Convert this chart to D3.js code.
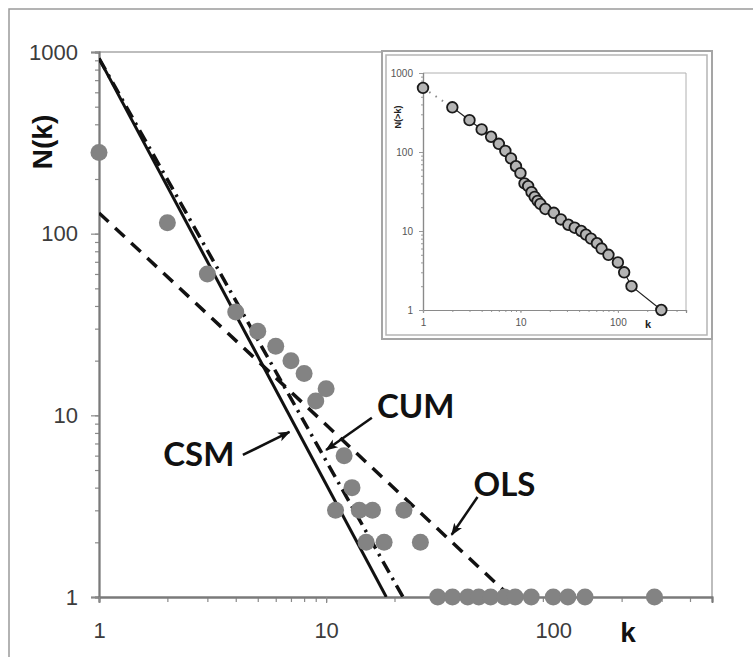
<!DOCTYPE html>
<html>
<head>
<meta charset="utf-8">
<script src="https://cdn.jsdelivr.net/npm/d3@7"></script>
<style>
  body { margin: 0; background: #fff; }
  text { font-family: "Liberation Sans", Arial, sans-serif; }
</style>
</head>
<body>
<svg width="753" height="657"></svg>
<script>
// main panel: degree k and number of nodes N(k)
const degrees = [1, 2, 3, 4, 5, 6, 7, 8, 9, 10, 11, 12, 13, 14, 15, 16, 18, 22, 26,
                 31, 36, 42, 47, 53, 61, 68, 80, 100, 116, 138, 279];
const counts  = [280, 115, 60, 37, 29, 24, 20, 17, 12, 14, 3, 6, 4, 3, 2, 3, 2, 3, 2,
                 1, 1, 1, 1, 1, 1, 1, 1, 1, 1, 1, 1];

// inset: cumulative N(>k)
const cumDegrees = [1, 2, 3, 4, 5, 6, 7, 8, 9, 10, 11, 12, 13, 14, 15, 16, 18, 22, 26,
                    31, 36, 42, 47, 53, 61, 68, 80, 100, 116, 138, 279];
const cumCounts  = [648, 368, 253, 193, 156, 127, 103, 83, 66, 54, 40, 37, 31, 27, 24, 22, 19, 17, 14,
                    12, 11, 10, 9, 8, 7, 6, 5, 4, 3, 2, 1];

// fitted lines, end points [k, N]
const csmFit = [[1, 922], [18.4, 1]];
const cumFit = [[1, 922], [21.8, 1]];
const olsFit = [[1, 130], [65, 1]];

const majorTicks = [1, 10, 100, 1000];
const xMajorTicks = [1, 10, 100];

// annotation labels: text, label position, arrow from -> to (data coords)
const labels = [
  { name: 'CSM', at: [2.75, 6.2],  from: [4.3, 6.05],  to: [6.9, 8.1] },
  { name: 'CUM', at: [24.8, 11.4], from: [15.9, 9.7],  to: [10.0, 6.45] },
  { name: 'OLS', at: [61, 4.25],   from: [46.4, 3.55], to: [35.7, 2.2] }
];

const svg = d3.select('svg');

const minorTicks = (lo, hi) => {
  const out = [];
  for (let p = lo; p < hi; p *= 10)
    for (let m = 1; m < 10; m++) if (p * m <= hi) out.push(p * m);
  out.push(hi);
  return out.filter((v, i, a) => a.indexOf(v) === i);
};

// outer frame
svg.append('rect')
   .attr('x', 9).attr('y', 9)
   .attr('width', 800).attr('height', 700)
   .attr('fill', 'none').attr('stroke', '#9a9a9a').attr('stroke-width', 1.5);

// ---------- main panel ----------
const x = d3.scaleLog().domain([1, 500]).range([99, 712]);
const y = d3.scaleLog().domain([1, 1000]).range([597, 52]);

svg.append('defs').append('clipPath').attr('id', 'plotclip')
   .append('rect').attr('x', 99).attr('y', 52).attr('width', 613).attr('height', 545);

// frame top / right
svg.append('path')
   .attr('d', `M99,52H712V597`)
   .attr('fill', 'none').attr('stroke', '#a8a8a8').attr('stroke-width', 1.5);

const yMinor = svg.append('g').attr('transform', 'translate(99,0)')
   .call(d3.axisLeft(y).tickValues(minorTicks(1, 1000)).tickSize(4).tickFormat(''));
const yMajor = svg.append('g').attr('transform', 'translate(99,0)')
   .call(d3.axisLeft(y).tickValues(majorTicks).tickSize(8).tickPadding(13).tickFormat(d3.format('d')));
const xMinor = svg.append('g').attr('transform', 'translate(0,597)')
   .call(d3.axisBottom(x).tickValues(minorTicks(1, 500)).tickSize(5).tickFormat(''));
const xMajor = svg.append('g').attr('transform', 'translate(0,597)')
   .call(d3.axisBottom(x).tickValues(xMajorTicks).tickSize(6).tickPadding(19).tickFormat(d3.format('d')));

[yMinor, yMajor, xMinor, xMajor].forEach(g => {
  g.selectAll('.domain').attr('stroke', '#7a7a7a').attr('stroke-width', 1.8);
  g.selectAll('.tick line').attr('stroke', '#8a8a8a').attr('stroke-width', 1.2);
  g.selectAll('.tick text').attr('fill', '#3c3c3c').style('font-size', '22px')
   .style('font-family', '"Liberation Sans", Arial, sans-serif');
});

const line = d3.line().x(d => x(d[0])).y(d => y(d[1]));
const fits = svg.append('g').attr('clip-path', 'url(#plotclip)');

fits.append('path').datum(olsFit).attr('d', line)
    .attr('fill', 'none').attr('stroke', '#111').attr('stroke-width', 3.5)
    .attr('stroke-dasharray', '13,9');
fits.append('path').datum(cumFit).attr('d', line)
    .attr('fill', 'none').attr('stroke', '#111').attr('stroke-width', 3.5)
    .attr('stroke-dasharray', '13,6,2.5,6');
fits.append('path').datum(csmFit).attr('d', line)
    .attr('fill', 'none').attr('stroke', '#111').attr('stroke-width', 3);

svg.append('g').selectAll('circle')
   .data(degrees.map((k, i) => [k, counts[i]]))
   .join('circle')
   .attr('cx', d => x(d[0]))
   .attr('cy', d => y(d[1]))
   .attr('r', 8.5)
   .attr('fill', '#838383');

// axis titles
svg.append('text')
   .attr('transform', 'translate(52,142) rotate(-90)')
   .attr('text-anchor', 'middle')
   .style('font-size', '28px').style('font-weight', 'bold')
   .attr('fill', '#111')
   .text('N(k)');
svg.append('text')
   .attr('x', 628).attr('y', 642)
   .attr('text-anchor', 'middle')
   .style('font-size', '28px').style('font-weight', 'bold')
   .attr('fill', '#111')
   .text('k');

// annotations
svg.select('defs').append('marker')
   .attr('id', 'arrow')
   .attr('viewBox', '0 -5 12 10')
   .attr('refX', 11).attr('refY', 0)
   .attr('markerWidth', 5).attr('markerHeight', 5)
   .attr('markerUnits', 'strokeWidth')
   .attr('orient', 'auto')
   .append('path')
   .attr('d', 'M0,-4.5L12,0L0,4.5L3,0Z')
   .attr('fill', '#111');

const ann = svg.append('g');
labels.forEach(l => {
  ann.append('text')
     .attr('x', x(l.at[0])).attr('y', y(l.at[1]))
     .attr('text-anchor', 'middle')
     .attr('dominant-baseline', 'central')
     .style('font-family', 'Lato, "Open Sans", sans-serif')
     .style('font-size', '33px').style('font-weight', 'bold')
     .attr('fill', '#111')
     .text(l.name);
  ann.append('line')
     .attr('x1', x(l.from[0])).attr('y1', y(l.from[1]))
     .attr('x2', x(l.to[0])).attr('y2', y(l.to[1]))
     .attr('stroke', '#111').attr('stroke-width', 2.5)
     .attr('marker-end', 'url(#arrow)');
});

// ---------- inset ----------
const inset = svg.append('g');
inset.append('rect')
     .attr('x', 382).attr('y', 51).attr('width', 330).attr('height', 288)
     .attr('fill', '#fff').attr('stroke', '#a5a5a5').attr('stroke-width', 2);
inset.append('rect')
     .attr('x', 386).attr('y', 55).attr('width', 321).attr('height', 280)
     .attr('fill', 'none').attr('stroke', '#b5b5b5').attr('stroke-width', 1.5);

const xi = d3.scaleLog().domain([1, 500]).range([423, 686]);
const yi = d3.scaleLog().domain([1, 1000]).range([310, 73]);

inset.append('path')
     .attr('d', `M423,73H686V310`)
     .attr('fill', 'none').attr('stroke', '#b0b0b0').attr('stroke-width', 1);

const yiMinor = inset.append('g').attr('transform', 'translate(423,0)')
     .call(d3.axisLeft(yi).tickValues(minorTicks(1, 1000)).tickSize(2).tickFormat(''));
const yiMajor = inset.append('g').attr('transform', 'translate(423,0)')
     .call(d3.axisLeft(yi).tickValues(majorTicks).tickSize(4).tickPadding(6).tickFormat(d3.format('d')));
const xiMinor = inset.append('g').attr('transform', 'translate(0,310)')
     .call(d3.axisBottom(xi).tickValues(minorTicks(1, 500)).tickSize(2).tickFormat(''));
const xiMajor = inset.append('g').attr('transform', 'translate(0,310)')
     .call(d3.axisBottom(xi).tickValues(xMajorTicks).tickSize(3).tickPadding(6).tickFormat(d3.format('d')));

[yiMinor, yiMajor, xiMinor, xiMajor].forEach(g => {
  g.selectAll('.domain').attr('stroke', '#8a8a8a').attr('stroke-width', 1.2);
  g.selectAll('.tick line').attr('stroke', '#9a9a9a').attr('stroke-width', 1);
  g.selectAll('.tick text').attr('fill', '#555').style('font-size', '10px')
   .style('font-family', '"Liberation Sans", Arial, sans-serif');
});

const cumPts = cumDegrees.map((k, i) => [k, cumCounts[i]]);
const iline = d3.line().x(d => xi(d[0])).y(d => yi(d[1]));
inset.append('path').datum(cumPts.slice(0, 2)).attr('d', iline)
     .attr('fill', 'none').attr('stroke', '#888').attr('stroke-width', 2)
     .attr('stroke-dasharray', '1.5,6');
inset.append('path').datum(cumPts.slice(1)).attr('d', iline)
     .attr('fill', 'none').attr('stroke', '#222').attr('stroke-width', 1.2);

inset.append('g').selectAll('circle')
     .data(cumPts)
     .join('circle')
     .attr('cx', d => xi(d[0]))
     .attr('cy', d => yi(d[1]))
     .attr('r', 5.3)
     .attr('fill', '#b4b4b4')
     .attr('stroke', '#1a1a1a')
     .attr('stroke-width', 1.8);

inset.append('text')
     .attr('transform', 'translate(401,117) rotate(-90)')
     .attr('text-anchor', 'middle')
     .style('font-size', '9px').style('font-weight', 'bold')
     .attr('fill', '#222')
     .text('N(>k)');
inset.append('text')
     .attr('x', 648).attr('y', 328)
     .attr('text-anchor', 'middle')
     .style('font-size', '11px').style('font-weight', 'bold')
     .attr('fill', '#222')
     .text('k');
</script>
</body>
</html>
